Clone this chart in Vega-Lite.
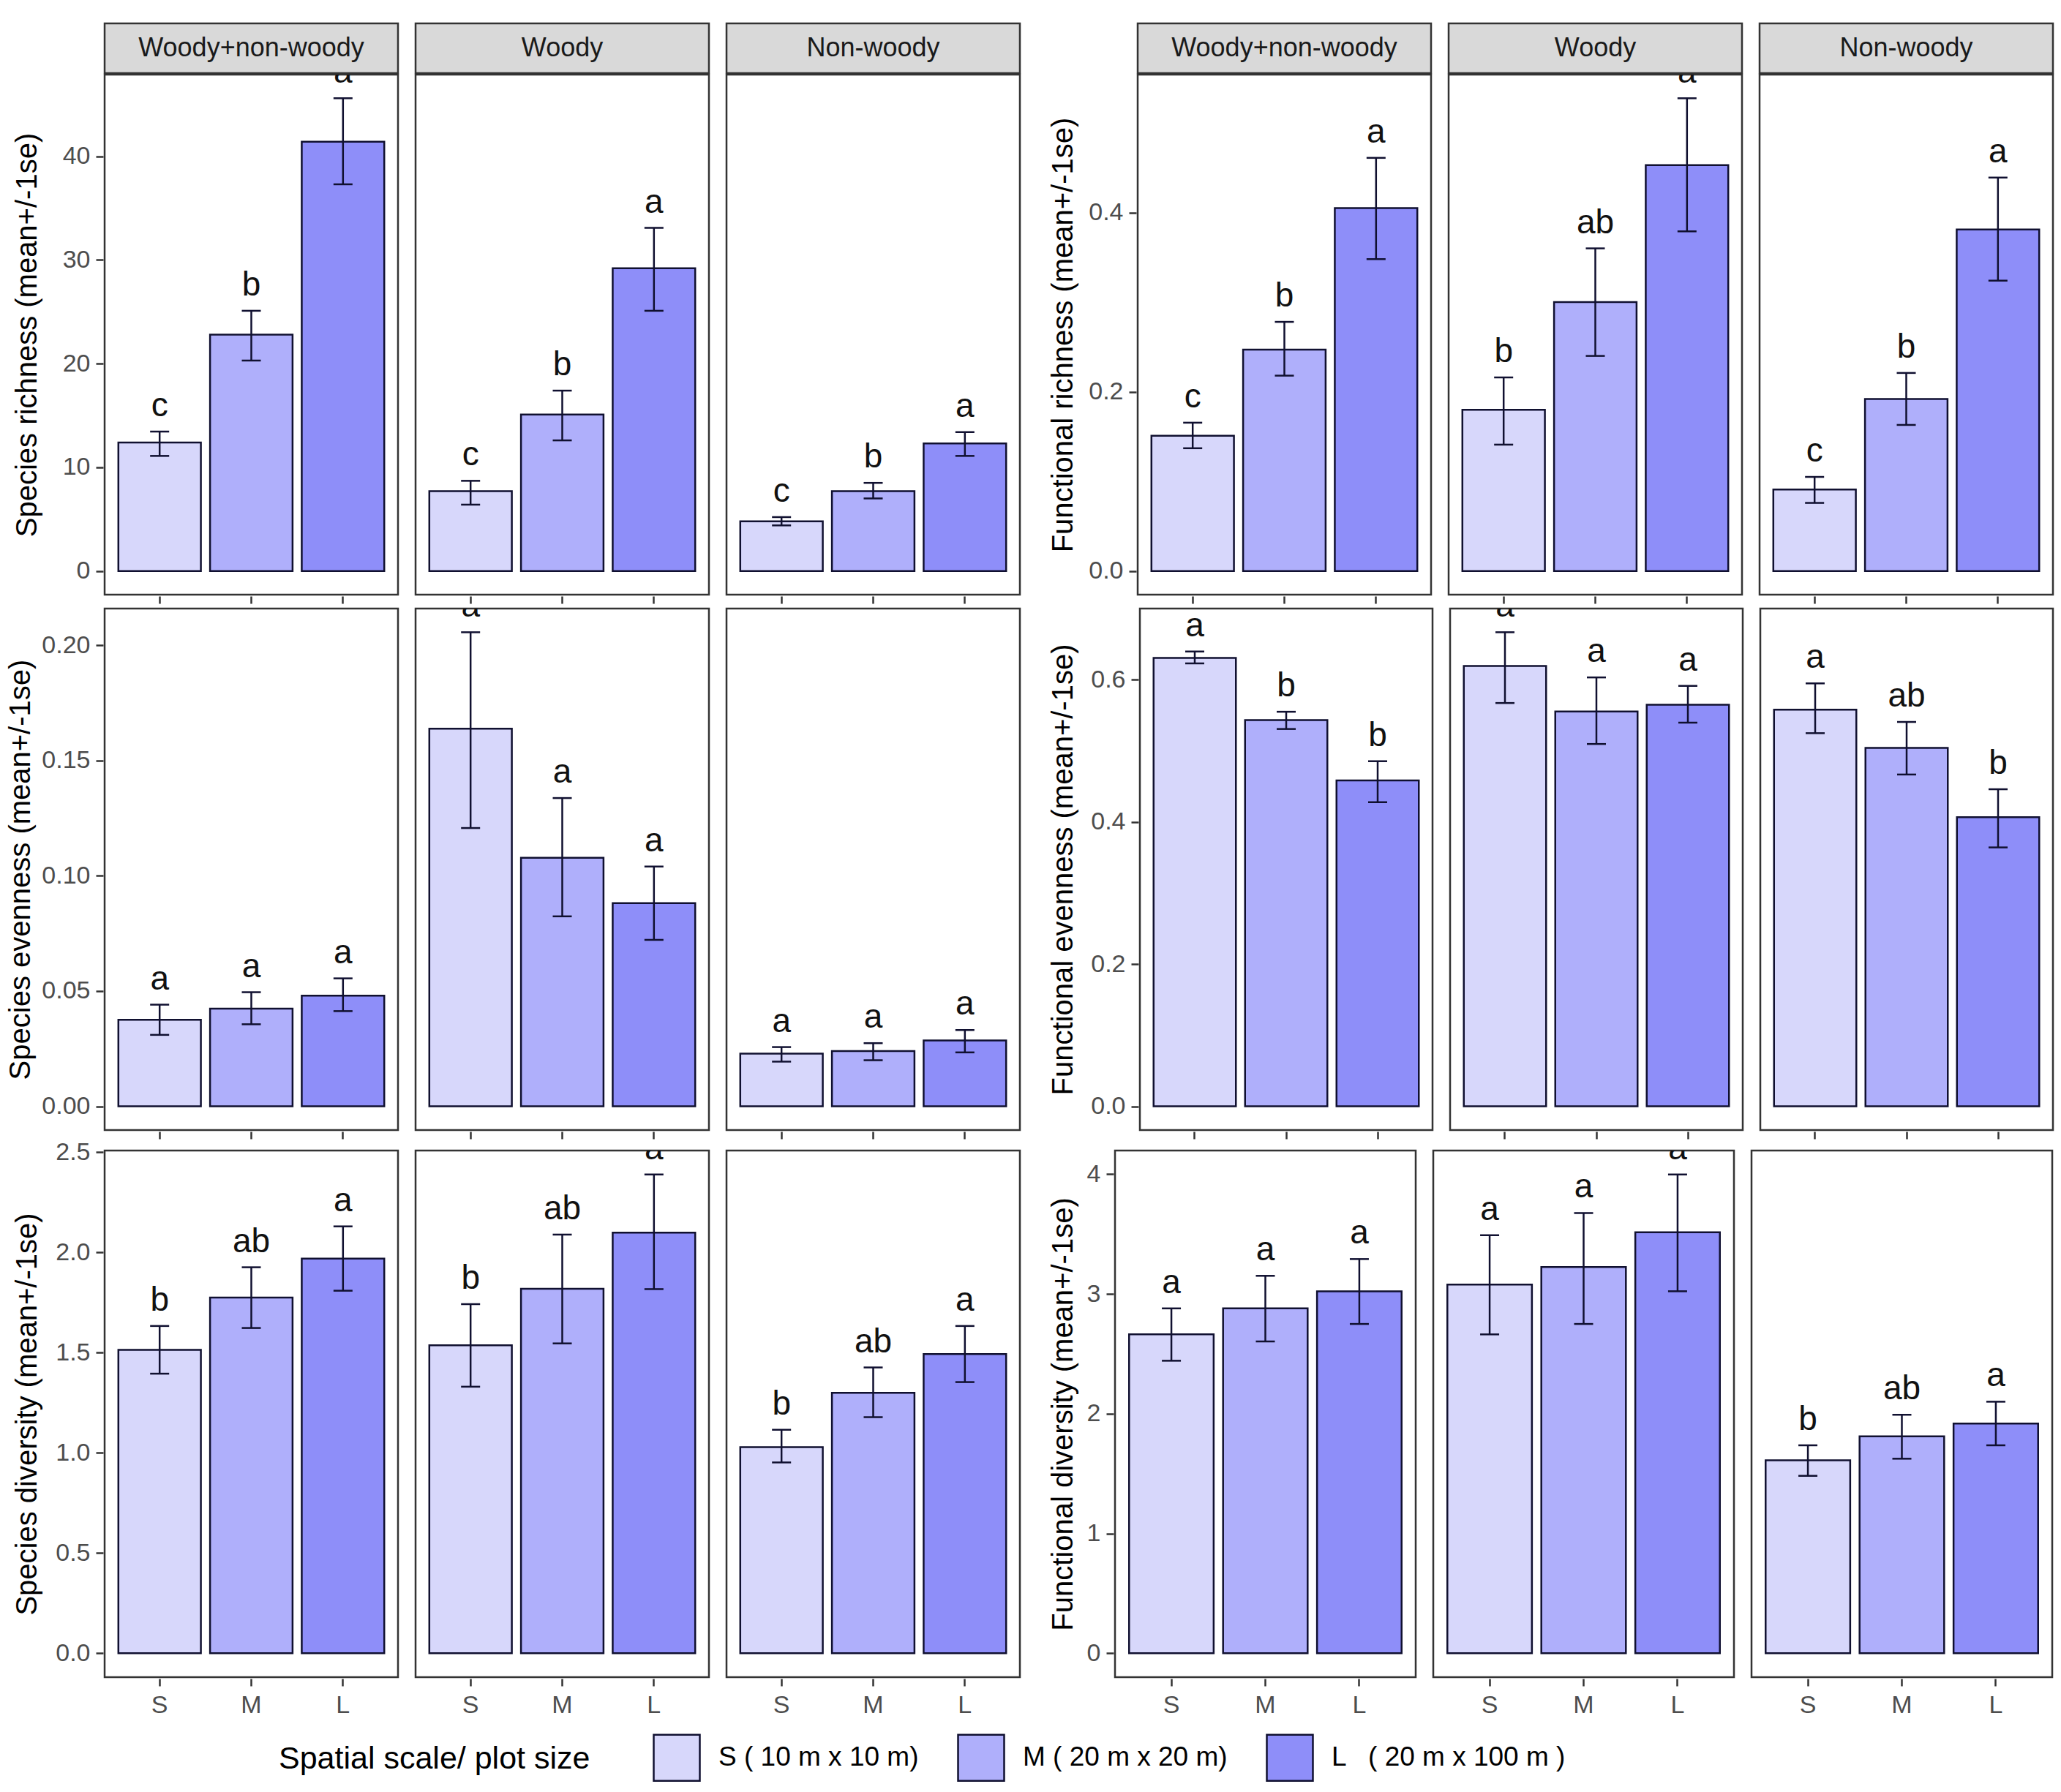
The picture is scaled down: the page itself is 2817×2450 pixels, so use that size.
{
  "$schema": "https://vega.github.io/schema/vega-lite/v6.json",
  "padding": {"left": 8, "top": 30, "right": 20, "bottom": 16},
  "background": "white",
  "config": {
    "font": "Liberation Sans",
    "view": {"stroke": "#333333", "strokeWidth": 2.5},
    "axis": {"domain": false, "grid": false, "ticks": true, "tickColor": "#333333", "tickWidth": 2.5, "tickSize": 10, "labelColor": "#4d4d4d", "labelFontSize": 34, "labelPadding": 8, "titleColor": "#000000", "titleFontSize": 40, "titleFontWeight": "normal", "titlePadding": 9},
    "axisX": {"labelPadding": 9, "labelAngle": 0}
  },
  "datasets": {
    "strips": [{"group": "Woody+non-woody"}, {"group": "Woody"}, {"group": "Non-woody"}],
    "d": [
      {"metric": "SR", "group": "Woody+non-woody", "size": "S", "mean": 12.4, "lo": 11.1, "hi": 13.45, "letter": "c"},
      {"metric": "SR", "group": "Woody+non-woody", "size": "M", "mean": 22.8, "lo": 20.3, "hi": 25.1, "letter": "b"},
      {"metric": "SR", "group": "Woody+non-woody", "size": "L", "mean": 41.4, "lo": 37.3, "hi": 45.6, "letter": "a"},
      {"metric": "SR", "group": "Woody", "size": "S", "mean": 7.7, "lo": 6.4, "hi": 8.7, "letter": "c"},
      {"metric": "SR", "group": "Woody", "size": "M", "mean": 15.1, "lo": 12.6, "hi": 17.4, "letter": "b"},
      {"metric": "SR", "group": "Woody", "size": "L", "mean": 29.2, "lo": 25.1, "hi": 33.1, "letter": "a"},
      {"metric": "SR", "group": "Non-woody", "size": "S", "mean": 4.8, "lo": 4.4, "hi": 5.2, "letter": "c"},
      {"metric": "SR", "group": "Non-woody", "size": "M", "mean": 7.7, "lo": 7.0, "hi": 8.5, "letter": "b"},
      {"metric": "SR", "group": "Non-woody", "size": "L", "mean": 12.3, "lo": 11.1, "hi": 13.4, "letter": "a"},
      {"metric": "FR", "group": "Woody+non-woody", "size": "S", "mean": 0.151, "lo": 0.137, "hi": 0.1655, "letter": "c"},
      {"metric": "FR", "group": "Woody+non-woody", "size": "M", "mean": 0.247, "lo": 0.218, "hi": 0.278, "letter": "b"},
      {"metric": "FR", "group": "Woody+non-woody", "size": "L", "mean": 0.405, "lo": 0.348, "hi": 0.461, "letter": "a"},
      {"metric": "FR", "group": "Woody", "size": "S", "mean": 0.18, "lo": 0.141, "hi": 0.216, "letter": "b"},
      {"metric": "FR", "group": "Woody", "size": "M", "mean": 0.3, "lo": 0.24, "hi": 0.36, "letter": "ab"},
      {"metric": "FR", "group": "Woody", "size": "L", "mean": 0.453, "lo": 0.379, "hi": 0.5275, "letter": "a"},
      {"metric": "FR", "group": "Non-woody", "size": "S", "mean": 0.091, "lo": 0.076, "hi": 0.105, "letter": "c"},
      {"metric": "FR", "group": "Non-woody", "size": "M", "mean": 0.192, "lo": 0.163, "hi": 0.221, "letter": "b"},
      {"metric": "FR", "group": "Non-woody", "size": "L", "mean": 0.381, "lo": 0.324, "hi": 0.439, "letter": "a"},
      {"metric": "SE", "group": "Woody+non-woody", "size": "S", "mean": 0.0375, "lo": 0.031, "hi": 0.0441, "letter": "a"},
      {"metric": "SE", "group": "Woody+non-woody", "size": "M", "mean": 0.0424, "lo": 0.0356, "hi": 0.0495, "letter": "a"},
      {"metric": "SE", "group": "Woody+non-woody", "size": "L", "mean": 0.048, "lo": 0.0413, "hi": 0.0555, "letter": "a"},
      {"metric": "SE", "group": "Woody", "size": "S", "mean": 0.1638, "lo": 0.1207, "hi": 0.2056, "letter": "a"},
      {"metric": "SE", "group": "Woody", "size": "M", "mean": 0.1078, "lo": 0.0824, "hi": 0.1337, "letter": "a"},
      {"metric": "SE", "group": "Woody", "size": "L", "mean": 0.0881, "lo": 0.0722, "hi": 0.104, "letter": "a"},
      {"metric": "SE", "group": "Non-woody", "size": "S", "mean": 0.0229, "lo": 0.0194, "hi": 0.0257, "letter": "a"},
      {"metric": "SE", "group": "Non-woody", "size": "M", "mean": 0.024, "lo": 0.02, "hi": 0.0274, "letter": "a"},
      {"metric": "SE", "group": "Non-woody", "size": "L", "mean": 0.0286, "lo": 0.0234, "hi": 0.0331, "letter": "a"},
      {"metric": "FE", "group": "Woody+non-woody", "size": "S", "mean": 0.6305, "lo": 0.6227, "hi": 0.6394, "letter": "a"},
      {"metric": "FE", "group": "Woody+non-woody", "size": "M", "mean": 0.5429, "lo": 0.5305, "hi": 0.5547, "letter": "b"},
      {"metric": "FE", "group": "Woody+non-woody", "size": "L", "mean": 0.4581, "lo": 0.4276, "hi": 0.4852, "letter": "b"},
      {"metric": "FE", "group": "Woody", "size": "S", "mean": 0.6192, "lo": 0.567, "hi": 0.6665, "letter": "a"},
      {"metric": "FE", "group": "Woody", "size": "M", "mean": 0.5552, "lo": 0.5094, "hi": 0.603, "letter": "a"},
      {"metric": "FE", "group": "Woody", "size": "L", "mean": 0.5645, "lo": 0.5394, "hi": 0.5911, "letter": "a"},
      {"metric": "FE", "group": "Non-woody", "size": "S", "mean": 0.5576, "lo": 0.5246, "hi": 0.5946, "letter": "a"},
      {"metric": "FE", "group": "Non-woody", "size": "M", "mean": 0.5039, "lo": 0.4665, "hi": 0.5404, "letter": "ab"},
      {"metric": "FE", "group": "Non-woody", "size": "L", "mean": 0.4064, "lo": 0.364, "hi": 0.4458, "letter": "b"},
      {"metric": "SD", "group": "Woody+non-woody", "size": "S", "mean": 1.514, "lo": 1.395, "hi": 1.633, "letter": "b"},
      {"metric": "SD", "group": "Woody+non-woody", "size": "M", "mean": 1.775, "lo": 1.623, "hi": 1.926, "letter": "ab"},
      {"metric": "SD", "group": "Woody+non-woody", "size": "L", "mean": 1.969, "lo": 1.809, "hi": 2.13, "letter": "a"},
      {"metric": "SD", "group": "Woody", "size": "S", "mean": 1.537, "lo": 1.33, "hi": 1.742, "letter": "b"},
      {"metric": "SD", "group": "Woody", "size": "M", "mean": 1.819, "lo": 1.546, "hi": 2.089, "letter": "ab"},
      {"metric": "SD", "group": "Woody", "size": "L", "mean": 2.099, "lo": 1.817, "hi": 2.389, "letter": "a"},
      {"metric": "SD", "group": "Non-woody", "size": "S", "mean": 1.028, "lo": 0.952, "hi": 1.115, "letter": "b"},
      {"metric": "SD", "group": "Non-woody", "size": "M", "mean": 1.299, "lo": 1.178, "hi": 1.426, "letter": "ab"},
      {"metric": "SD", "group": "Non-woody", "size": "L", "mean": 1.493, "lo": 1.353, "hi": 1.633, "letter": "a"},
      {"metric": "FD", "group": "Woody+non-woody", "size": "S", "mean": 2.662, "lo": 2.442, "hi": 2.879, "letter": "a"},
      {"metric": "FD", "group": "Woody+non-woody", "size": "M", "mean": 2.879, "lo": 2.603, "hi": 3.151, "letter": "a"},
      {"metric": "FD", "group": "Woody+non-woody", "size": "L", "mean": 3.022, "lo": 2.749, "hi": 3.291, "letter": "a"},
      {"metric": "FD", "group": "Woody", "size": "S", "mean": 3.078, "lo": 2.662, "hi": 3.49, "letter": "a"},
      {"metric": "FD", "group": "Woody", "size": "M", "mean": 3.224, "lo": 2.749, "hi": 3.675, "letter": "a"},
      {"metric": "FD", "group": "Woody", "size": "L", "mean": 3.514, "lo": 3.022, "hi": 3.997, "letter": "a"},
      {"metric": "FD", "group": "Non-woody", "size": "S", "mean": 1.61, "lo": 1.481, "hi": 1.736, "letter": "b"},
      {"metric": "FD", "group": "Non-woody", "size": "M", "mean": 1.81, "lo": 1.624, "hi": 1.991, "letter": "ab"},
      {"metric": "FD", "group": "Non-woody", "size": "L", "mean": 1.918, "lo": 1.736, "hi": 2.1, "letter": "a"}
    ]
  },
  "spacing": 3,
  "vconcat": [
    {
      "spacing": -2.5,
      "vconcat": [
        {
          "spacing": 37,
          "hconcat": [
            {
              "data": {"name": "strips"},
              "facet": {"column": {"field": "group", "type": "nominal", "sort": ["Woody+non-woody", "Woody", "Non-woody"], "header": {"labels": false, "title": null}}},
              "spacing": 20,
              "spec": {
                "width": 401, "height": 68,
                "view": {"fill": "#d9d9d9", "stroke": "#333333", "strokeWidth": 2.5},
                "mark": {"type": "text", "fontSize": 36, "color": "#1a1a1a", "baseline": "middle"},
                "encoding": {
                  "text": {"field": "group"},
                  "y": {"datum": 0.5, "type": "quantitative", "scale": {"domain": [0, 1]}, "axis": {"labels": false, "ticks": false, "domain": false, "grid": false, "title": "x", "titleColor": "#ffffff", "minExtent": 75, "maxExtent": 75}}
                }
              }
            },
            {
              "data": {"name": "strips"},
              "facet": {"column": {"field": "group", "type": "nominal", "sort": ["Woody+non-woody", "Woody", "Non-woody"], "header": {"labels": false, "title": null}}},
              "spacing": 20,
              "spec": {
                "width": 401, "height": 68,
                "view": {"fill": "#d9d9d9", "stroke": "#333333", "strokeWidth": 2.5},
                "mark": {"type": "text", "fontSize": 36, "color": "#1a1a1a", "baseline": "middle"},
                "encoding": {
                  "text": {"field": "group"},
                  "y": {"datum": 0.5, "type": "quantitative", "scale": {"domain": [0, 1]}, "axis": {"labels": false, "ticks": false, "domain": false, "grid": false, "title": "x", "titleColor": "#ffffff", "minExtent": 71, "maxExtent": 71}}
                }
              }
            }
          ]
        },
        {
          "spacing": 37,
          "hconcat": [
            {
              "data": {"name": "d"},
              "transform": [{"filter": "datum.metric == 'SR'"}],
              "facet": {"column": {"field": "group", "type": "nominal", "sort": ["Woody+non-woody", "Woody", "Non-woody"], "header": {"labels": false, "title": null}}},
              "spacing": 20,
              "spec": {
                "width": 401, "height": 711,
                "encoding": {"x": {"field": "size", "type": "nominal", "sort": ["S", "M", "L"], "scale": {"paddingInner": 0.1, "paddingOuter": 0.15}, "axis": {"title": null, "labels": false}}},
                "layer": [
                  {"mark": {"type": "bar", "stroke": "#101030", "strokeWidth": 2.5},
                   "encoding": {
                     "y": {"field": "mean", "type": "quantitative", "scale": {"domain": [-2.28, 47.88], "nice": false, "zero": false}, "axis": {"title": "Species richness (mean+/-1se)", "values": [0, 10, 20, 30, 40], "format": "d", "minExtent": 75, "maxExtent": 75}},
                     "y2": {"datum": 0},
                     "color": {"field": "size", "type": "nominal", "scale": {"domain": ["S", "M", "L"], "range": ["#d7d7fb", "#afaffb", "#8e8ef9"]}, "title": "Spatial scale/ plot size",
                       "legend": {"orient": "none", "legendX": 238, "legendY": 2338, "direction": "horizontal", "titleOrient": "left", "titleAnchor": "middle", "titleFontSize": 43, "titleColor": "#000000", "titleFontWeight": "normal", "titlePadding": 85, "labelFontSize": 37, "labelColor": "#000000", "labelOffset": 24, "columnPadding": 48, "symbolType": "square", "symbolSize": 3969, "symbolStrokeColor": "#101030", "symbolStrokeWidth": 2.5, "titleLimit": 2000, "labelLimit": 2000,
                         "labelExpr": "datum.label == 'S' ? 'S ( 10 m x 10 m)' : datum.label == 'M' ? 'M ( 20 m x 20 m)' : 'L \u00a0\u00a0( 20 m x 100 m )'"}}
                   }},
                  {"mark": {"type": "rule", "color": "#101030", "strokeWidth": 2.5}, "encoding": {"y": {"field": "lo", "type": "quantitative"}, "y2": {"field": "hi"}}},
                  {"mark": {"type": "tick", "color": "#101030", "thickness": 2.5, "size": 26, "opacity": 1}, "encoding": {"y": {"field": "hi", "type": "quantitative"}}},
                  {"mark": {"type": "tick", "color": "#101030", "thickness": 2.5, "size": 26, "opacity": 1}, "encoding": {"y": {"field": "lo", "type": "quantitative"}}},
                  {"mark": {"type": "text", "fontSize": 46, "baseline": "alphabetic", "dy": -21, "clip": true, "color": "#111111"}, "encoding": {"y": {"field": "hi", "type": "quantitative"}, "text": {"field": "letter"}}}
                ]
              }
            },
            {
              "data": {"name": "d"},
              "transform": [{"filter": "datum.metric == 'FR'"}],
              "facet": {"column": {"field": "group", "type": "nominal", "sort": ["Woody+non-woody", "Woody", "Non-woody"], "header": {"labels": false, "title": null}}},
              "spacing": 20,
              "spec": {
                "width": 401, "height": 711,
                "encoding": {"x": {"field": "size", "type": "nominal", "sort": ["S", "M", "L"], "scale": {"paddingInner": 0.1, "paddingOuter": 0.15}, "axis": {"title": null, "labels": false}}},
                "layer": [
                  {"mark": {"type": "bar", "stroke": "#101030", "strokeWidth": 2.5},
                   "encoding": {
                     "y": {"field": "mean", "type": "quantitative", "scale": {"domain": [-0.02638, 0.5539], "nice": false, "zero": false}, "axis": {"title": "Functional richness (mean+/-1se)", "values": [0, 0.2, 0.4], "format": ".1f", "minExtent": 71, "maxExtent": 71}},
                     "y2": {"datum": 0},
                     "color": {"field": "size", "type": "nominal", "scale": {"domain": ["S", "M", "L"], "range": ["#d7d7fb", "#afaffb", "#8e8ef9"]}, "title": "Spatial scale/ plot size",
                       "legend": {"orient": "none", "legendX": 238, "legendY": 2338, "direction": "horizontal", "titleOrient": "left", "titleAnchor": "middle", "titleFontSize": 43, "titleColor": "#000000", "titleFontWeight": "normal", "titlePadding": 85, "labelFontSize": 37, "labelColor": "#000000", "labelOffset": 24, "columnPadding": 48, "symbolType": "square", "symbolSize": 3969, "symbolStrokeColor": "#101030", "symbolStrokeWidth": 2.5, "titleLimit": 2000, "labelLimit": 2000,
                         "labelExpr": "datum.label == 'S' ? 'S ( 10 m x 10 m)' : datum.label == 'M' ? 'M ( 20 m x 20 m)' : 'L \u00a0\u00a0( 20 m x 100 m )'"}}
                   }},
                  {"mark": {"type": "rule", "color": "#101030", "strokeWidth": 2.5}, "encoding": {"y": {"field": "lo", "type": "quantitative"}, "y2": {"field": "hi"}}},
                  {"mark": {"type": "tick", "color": "#101030", "thickness": 2.5, "size": 26, "opacity": 1}, "encoding": {"y": {"field": "hi", "type": "quantitative"}}},
                  {"mark": {"type": "tick", "color": "#101030", "thickness": 2.5, "size": 26, "opacity": 1}, "encoding": {"y": {"field": "lo", "type": "quantitative"}}},
                  {"mark": {"type": "text", "fontSize": 46, "baseline": "alphabetic", "dy": -21, "clip": true, "color": "#111111"}, "encoding": {"y": {"field": "hi", "type": "quantitative"}, "text": {"field": "letter"}}}
                ]
              }
            }
          ]
        }
      ]
    },
    {
      "spacing": -1,
      "vconcat": [
        {
          "spacing": 37,
          "hconcat": [
            {
              "data": {"name": "d"},
              "transform": [{"filter": "datum.metric == 'SE'"}],
              "facet": {"column": {"field": "group", "type": "nominal", "sort": ["Woody+non-woody", "Woody", "Non-woody"], "header": {"labels": false, "title": null}}},
              "spacing": 20,
              "spec": {
                "width": 401, "height": 713,
                "encoding": {"x": {"field": "size", "type": "nominal", "sort": ["S", "M", "L"], "scale": {"paddingInner": 0.1, "paddingOuter": 0.15}, "axis": {"title": null, "labels": false}}},
                "layer": [
                  {"mark": {"type": "bar", "stroke": "#101030", "strokeWidth": 2.5},
                   "encoding": {
                     "y": {"field": "mean", "type": "quantitative", "scale": {"domain": [-0.01028, 0.21588], "nice": false, "zero": false}, "axis": {"title": "Species evenness (mean+/-1se)", "values": [0, 0.05, 0.1, 0.15, 0.2], "format": ".2f", "minExtent": 84, "maxExtent": 84}},
                     "y2": {"datum": 0},
                     "color": {"field": "size", "type": "nominal", "scale": {"domain": ["S", "M", "L"], "range": ["#d7d7fb", "#afaffb", "#8e8ef9"]}, "title": "Spatial scale/ plot size",
                       "legend": {"orient": "none", "legendX": 238, "legendY": 2338, "direction": "horizontal", "titleOrient": "left", "titleAnchor": "middle", "titleFontSize": 43, "titleColor": "#000000", "titleFontWeight": "normal", "titlePadding": 85, "labelFontSize": 37, "labelColor": "#000000", "labelOffset": 24, "columnPadding": 48, "symbolType": "square", "symbolSize": 3969, "symbolStrokeColor": "#101030", "symbolStrokeWidth": 2.5, "titleLimit": 2000, "labelLimit": 2000,
                         "labelExpr": "datum.label == 'S' ? 'S ( 10 m x 10 m)' : datum.label == 'M' ? 'M ( 20 m x 20 m)' : 'L \u00a0\u00a0( 20 m x 100 m )'"}}
                   }},
                  {"mark": {"type": "rule", "color": "#101030", "strokeWidth": 2.5}, "encoding": {"y": {"field": "lo", "type": "quantitative"}, "y2": {"field": "hi"}}},
                  {"mark": {"type": "tick", "color": "#101030", "thickness": 2.5, "size": 26, "opacity": 1}, "encoding": {"y": {"field": "hi", "type": "quantitative"}}},
                  {"mark": {"type": "tick", "color": "#101030", "thickness": 2.5, "size": 26, "opacity": 1}, "encoding": {"y": {"field": "lo", "type": "quantitative"}}},
                  {"mark": {"type": "text", "fontSize": 46, "baseline": "alphabetic", "dy": -21, "clip": true, "color": "#111111"}, "encoding": {"y": {"field": "hi", "type": "quantitative"}, "text": {"field": "letter"}}}
                ]
              }
            },
            {
              "data": {"name": "d"},
              "transform": [{"filter": "datum.metric == 'FE'"}],
              "facet": {"column": {"field": "group", "type": "nominal", "sort": ["Woody+non-woody", "Woody", "Non-woody"], "header": {"labels": false, "title": null}}},
              "spacing": 20,
              "spec": {
                "width": 400, "height": 713,
                "encoding": {"x": {"field": "size", "type": "nominal", "sort": ["S", "M", "L"], "scale": {"paddingInner": 0.1, "paddingOuter": 0.15}, "axis": {"title": null, "labels": false}}},
                "layer": [
                  {"mark": {"type": "bar", "stroke": "#101030", "strokeWidth": 2.5},
                   "encoding": {
                     "y": {"field": "mean", "type": "quantitative", "scale": {"domain": [-0.0333, 0.6998], "nice": false, "zero": false}, "axis": {"title": "Functional evenness (mean+/-1se)", "values": [0, 0.2, 0.4, 0.6], "format": ".1f", "minExtent": 74, "maxExtent": 74}},
                     "y2": {"datum": 0},
                     "color": {"field": "size", "type": "nominal", "scale": {"domain": ["S", "M", "L"], "range": ["#d7d7fb", "#afaffb", "#8e8ef9"]}, "title": "Spatial scale/ plot size",
                       "legend": {"orient": "none", "legendX": 238, "legendY": 2338, "direction": "horizontal", "titleOrient": "left", "titleAnchor": "middle", "titleFontSize": 43, "titleColor": "#000000", "titleFontWeight": "normal", "titlePadding": 85, "labelFontSize": 37, "labelColor": "#000000", "labelOffset": 24, "columnPadding": 48, "symbolType": "square", "symbolSize": 3969, "symbolStrokeColor": "#101030", "symbolStrokeWidth": 2.5, "titleLimit": 2000, "labelLimit": 2000,
                         "labelExpr": "datum.label == 'S' ? 'S ( 10 m x 10 m)' : datum.label == 'M' ? 'M ( 20 m x 20 m)' : 'L \u00a0\u00a0( 20 m x 100 m )'"}}
                   }},
                  {"mark": {"type": "rule", "color": "#101030", "strokeWidth": 2.5}, "encoding": {"y": {"field": "lo", "type": "quantitative"}, "y2": {"field": "hi"}}},
                  {"mark": {"type": "tick", "color": "#101030", "thickness": 2.5, "size": 26, "opacity": 1}, "encoding": {"y": {"field": "hi", "type": "quantitative"}}},
                  {"mark": {"type": "tick", "color": "#101030", "thickness": 2.5, "size": 26, "opacity": 1}, "encoding": {"y": {"field": "lo", "type": "quantitative"}}},
                  {"mark": {"type": "text", "fontSize": 46, "baseline": "alphabetic", "dy": -21, "clip": true, "color": "#111111"}, "encoding": {"y": {"field": "hi", "type": "quantitative"}, "text": {"field": "letter"}}}
                ]
              }
            }
          ]
        },
        {
          "spacing": 37,
          "hconcat": [
            {
              "data": {"name": "d"},
              "transform": [{"filter": "datum.metric == 'SD'"}],
              "facet": {"column": {"field": "group", "type": "nominal", "sort": ["Woody+non-woody", "Woody", "Non-woody"], "header": {"labels": false, "title": null}}},
              "spacing": 20,
              "spec": {
                "width": 401, "height": 720,
                "encoding": {"x": {"field": "size", "type": "nominal", "sort": ["S", "M", "L"], "scale": {"paddingInner": 0.1, "paddingOuter": 0.15}, "axis": {"title": null, "labels": true}}},
                "layer": [
                  {"mark": {"type": "bar", "stroke": "#101030", "strokeWidth": 2.5},
                   "encoding": {
                     "y": {"field": "mean", "type": "quantitative", "scale": {"domain": [-0.1195, 2.5085], "nice": false, "zero": false}, "axis": {"title": "Species diversity (mean+/-1se)", "values": [0, 0.5, 1, 1.5, 2, 2.5], "format": ".1f", "minExtent": 75, "maxExtent": 75}},
                     "y2": {"datum": 0},
                     "color": {"field": "size", "type": "nominal", "scale": {"domain": ["S", "M", "L"], "range": ["#d7d7fb", "#afaffb", "#8e8ef9"]}, "title": "Spatial scale/ plot size",
                       "legend": {"orient": "none", "legendX": 238, "legendY": 2338, "direction": "horizontal", "titleOrient": "left", "titleAnchor": "middle", "titleFontSize": 43, "titleColor": "#000000", "titleFontWeight": "normal", "titlePadding": 85, "labelFontSize": 37, "labelColor": "#000000", "labelOffset": 24, "columnPadding": 48, "symbolType": "square", "symbolSize": 3969, "symbolStrokeColor": "#101030", "symbolStrokeWidth": 2.5, "titleLimit": 2000, "labelLimit": 2000,
                         "labelExpr": "datum.label == 'S' ? 'S ( 10 m x 10 m)' : datum.label == 'M' ? 'M ( 20 m x 20 m)' : 'L \u00a0\u00a0( 20 m x 100 m )'"}}
                   }},
                  {"mark": {"type": "rule", "color": "#101030", "strokeWidth": 2.5}, "encoding": {"y": {"field": "lo", "type": "quantitative"}, "y2": {"field": "hi"}}},
                  {"mark": {"type": "tick", "color": "#101030", "thickness": 2.5, "size": 26, "opacity": 1}, "encoding": {"y": {"field": "hi", "type": "quantitative"}}},
                  {"mark": {"type": "tick", "color": "#101030", "thickness": 2.5, "size": 26, "opacity": 1}, "encoding": {"y": {"field": "lo", "type": "quantitative"}}},
                  {"mark": {"type": "text", "fontSize": 46, "baseline": "alphabetic", "dy": -21, "clip": true, "color": "#111111"}, "encoding": {"y": {"field": "hi", "type": "quantitative"}, "text": {"field": "letter"}}}
                ]
              }
            },
            {
              "data": {"name": "d"},
              "transform": [{"filter": "datum.metric == 'FD'"}],
              "facet": {"column": {"field": "group", "type": "nominal", "sort": ["Woody+non-woody", "Woody", "Non-woody"], "header": {"labels": false, "title": null}}},
              "spacing": 20,
              "spec": {
                "width": 411, "height": 720,
                "encoding": {"x": {"field": "size", "type": "nominal", "sort": ["S", "M", "L"], "scale": {"paddingInner": 0.1, "paddingOuter": 0.15}, "axis": {"title": null, "labels": true}}},
                "layer": [
                  {"mark": {"type": "bar", "stroke": "#101030", "strokeWidth": 2.5},
                   "encoding": {
                     "y": {"field": "mean", "type": "quantitative", "scale": {"domain": [-0.2, 4.197], "nice": false, "zero": false}, "axis": {"title": "Functional diversity (mean+/-1se)", "values": [0, 1, 2, 3, 4], "format": "d", "minExtent": 40, "maxExtent": 40}},
                     "y2": {"datum": 0},
                     "color": {"field": "size", "type": "nominal", "scale": {"domain": ["S", "M", "L"], "range": ["#d7d7fb", "#afaffb", "#8e8ef9"]}, "title": "Spatial scale/ plot size",
                       "legend": {"orient": "none", "legendX": 238, "legendY": 2338, "direction": "horizontal", "titleOrient": "left", "titleAnchor": "middle", "titleFontSize": 43, "titleColor": "#000000", "titleFontWeight": "normal", "titlePadding": 85, "labelFontSize": 37, "labelColor": "#000000", "labelOffset": 24, "columnPadding": 48, "symbolType": "square", "symbolSize": 3969, "symbolStrokeColor": "#101030", "symbolStrokeWidth": 2.5, "titleLimit": 2000, "labelLimit": 2000,
                         "labelExpr": "datum.label == 'S' ? 'S ( 10 m x 10 m)' : datum.label == 'M' ? 'M ( 20 m x 20 m)' : 'L \u00a0\u00a0( 20 m x 100 m )'"}}
                   }},
                  {"mark": {"type": "rule", "color": "#101030", "strokeWidth": 2.5}, "encoding": {"y": {"field": "lo", "type": "quantitative"}, "y2": {"field": "hi"}}},
                  {"mark": {"type": "tick", "color": "#101030", "thickness": 2.5, "size": 26, "opacity": 1}, "encoding": {"y": {"field": "hi", "type": "quantitative"}}},
                  {"mark": {"type": "tick", "color": "#101030", "thickness": 2.5, "size": 26, "opacity": 1}, "encoding": {"y": {"field": "lo", "type": "quantitative"}}},
                  {"mark": {"type": "text", "fontSize": 46, "baseline": "alphabetic", "dy": -21, "clip": true, "color": "#111111"}, "encoding": {"y": {"field": "hi", "type": "quantitative"}, "text": {"field": "letter"}}}
                ]
              }
            }
          ]
        }
      ]
    }
  ]
}
